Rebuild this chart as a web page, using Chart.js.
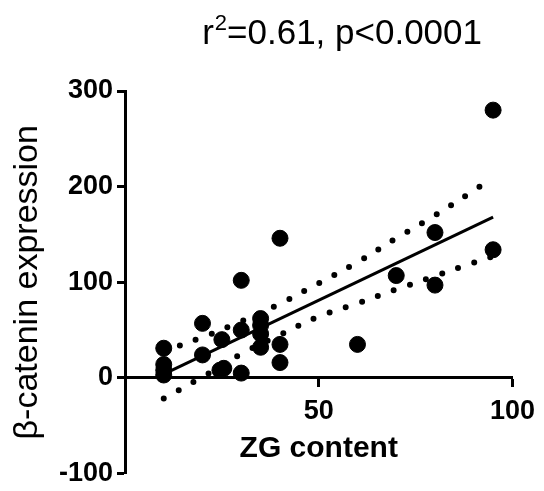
<!DOCTYPE html>
<html>
<head>
<meta charset="utf-8">
<script src="https://cdn.jsdelivr.net/npm/chart.js"></script>
<style>
  body { margin: 0; background: #fff; }
</style>
</head>
<body>
<canvas id="scatterChart" width="544" height="491"></canvas>
<script>
// Punkter
let zgContent = [10, 10, 10, 10, 20, 20, 24.5, 25.5, 25, 30, 30, 30, 35, 35, 35, 35, 40, 40, 40, 60, 70, 80, 80, 95, 95]
let betaCatenin = [31, 14, 8, 3, 57, 24, 8, 10, 40, 102, 50, 5, 62, 55, 46, 32, 146, 35, 16, 35, 107, 152, 97, 280, 134]

// Regressionslinje och konfidensband
let fitX = [10, 95]
let fitY = [4, 168]
let bandX = [10, 20, 30, 40, 50, 60, 70, 80, 90, 95]
let upperBand = [28, 42.5, 59, 77.5, 99, 121, 146, 170, 196, 210]
let lowerBand = [-21.5, 1, 25, 45, 64, 78, 92.5, 106.5, 120.5, 127]

let yTicks = [-100, 0, 100, 200, 300]
let xTicks = [0, 50, 100]

let titleParts = ['r', '2', '=0.61, p<0.0001']
let xTitle = 'ZG content'
let yTitle = 'β-catenin expression'

let fontFamily = "'Liberation Sans', Arial, sans-serif"
Chart.defaults.color = '#000'
Chart.defaults.font.family = fontFamily

function toPoints(xs, ys) {
  let points = []
  for (let i = 0; i < xs.length; i++) {
    points.push({ x: xs[i], y: ys[i] })
  }
  return points
}

// Rubrik med upphöjd tvåa
let topTitle = {
  id: 'topTitle',
  afterDraw(chart) {
    let ctx = chart.ctx
    ctx.save()
    ctx.fillStyle = '#000'
    ctx.textBaseline = 'alphabetic'
    let big = '35px ' + fontFamily
    let small = '22px ' + fontFamily
    ctx.font = big
    let w1 = ctx.measureText(titleParts[0]).width
    let w3 = ctx.measureText(titleParts[2]).width
    ctx.font = small
    let w2 = ctx.measureText(titleParts[1]).width
    let x = 481 - (w1 + w2 + w3)
    let y = 44
    ctx.font = big
    ctx.fillText(titleParts[0], x, y)
    ctx.font = small
    ctx.fillText(titleParts[1], x + w1 + 1, y - 14)
    ctx.font = big
    ctx.fillText(titleParts[2], x + w1 + w2 + 1, y)
    ctx.restore()
  },
}

let gridOptions = {
  drawOnChartArea: false,
  drawTicks: true,
  tickLength: 8,
  tickWidth: 3,
  color: '#000',
}

new Chart(document.getElementById('scatterChart'), {
  type: 'scatter',
  data: {
    datasets: [
      {
        label: 'data',
        data: toPoints(zgContent, betaCatenin),
        backgroundColor: '#000',
        borderColor: '#000',
        pointRadius: 8,
        pointHoverRadius: 8,
      },
      {
        label: 'fit',
        data: toPoints(fitX, fitY),
        showLine: true,
        borderColor: '#000',
        borderWidth: 3,
        pointRadius: 0,
      },
      {
        label: 'upper',
        data: toPoints(bandX, upperBand),
        showLine: true,
        borderColor: '#000',
        borderWidth: 6,
        borderDash: [0, 17],
        borderCapStyle: 'round',
        tension: 0.4,
        pointRadius: 0,
      },
      {
        label: 'lower',
        data: toPoints(bandX, lowerBand),
        showLine: true,
        borderColor: '#000',
        borderWidth: 6,
        borderDash: [0, 17],
        borderCapStyle: 'round',
        tension: 0.4,
        pointRadius: 0,
      },
    ],
  },
  options: {
    responsive: false,
    animation: false,
    devicePixelRatio: 1,
    layout: {
      padding: { top: 91, right: 29, left: 0, bottom: 0 },
    },
    plugins: {
      legend: { display: false },
      tooltip: { enabled: false },
    },
    scales: {
      x: {
        type: 'linear',
        position: { y: 0 },
        min: 0,
        max: 100,
        afterBuildTicks: (scale) => {
          scale.ticks = xTicks.map((v) => ({ value: v }))
        },
        afterFit: (scale) => {
          scale.height = 14
        },
        ticks: {
          padding: 9,
          font: { size: 27, weight: 'bold' },
          callback: (value) => (value === 0 ? '' : value),
        },
        grid: gridOptions,
        border: { display: true, width: 3, color: '#000' },
        title: {
          display: true,
          text: xTitle,
          font: { size: 30, weight: 'bold' },
          padding: { top: 0, bottom: -75 },
        },
      },
      y: {
        type: 'linear',
        position: 'left',
        min: -100,
        max: 300,
        afterBuildTicks: (scale) => {
          scale.ticks = yTicks.map((v) => ({ value: v }))
        },
        afterFit: (scale) => {
          scale.width = 125
        },
        ticks: {
          padding: 4,
          font: { size: 27, weight: 'bold', lineHeight: 1 },
        },
        grid: gridOptions,
        border: { display: true, width: 3, color: '#000' },
        title: {
          display: true,
          text: yTitle,
          font: { size: 34, weight: 'normal' },
          padding: { top: 7, bottom: 0 },
        },
      },
    },
  },
  plugins: [topTitle],
})
</script>
</body>
</html>
